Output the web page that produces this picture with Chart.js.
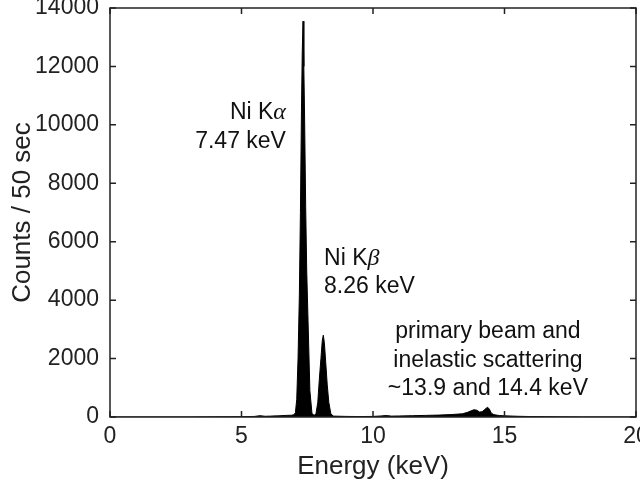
<!DOCTYPE html>
<html>
<head>
<meta charset="utf-8">
<script src="https://cdn.jsdelivr.net/npm/chart.js@4"></script>
<style>
  html, body { margin: 0; padding: 0; background: #fff; }
  #wrap { width: 640px; height: 482px; }
</style>
</head>
<body>
<div id="wrap"><canvas id="mycanvas" width="640" height="482"></canvas></div>
<script>
// spectrum
var energy = [0, 1, 2, 3, 4, 5, 5.5, 5.7, 5.9, 6.1, 6.4, 6.7, 6.9, 7.0, 7.05, 7.1, 7.15, 7.2, 7.24, 7.28, 7.31, 7.34, 7.37, 7.40, 7.44, 7.48, 7.53, 7.6, 7.68, 7.76, 7.83, 7.9, 7.96, 8.02, 8.07, 8.11, 8.15, 8.2, 8.26, 8.32, 8.40, 8.5, 9, 9.5, 10, 10.3, 10.5, 10.7, 11, 11.5, 12, 12.5, 13, 13.4, 13.6, 13.75, 13.85, 13.95, 14.05, 14.15, 14.25, 14.35, 14.42, 14.5, 14.6, 14.8, 15, 15.5, 16, 17, 18, 19, 20];
var counts = [0, 0, 0, 0, 5, 10, 20, 45, 25, 30, 40, 55, 60, 80, 150, 600, 2000, 4200, 7000, 10500, 12500, 13550, 12000, 10200, 7200, 5000, 3300, 900, 120, 60, 100, 500, 1300, 2000, 2600, 2800, 2550, 1900, 1100, 500, 100, 30, 20, 15, 20, 35, 50, 30, 35, 45, 55, 65, 85, 110, 160, 220, 250, 230, 170, 180, 260, 330, 280, 130, 80, 50, 40, 25, 15, 5, 0, 0, 0];

var xTicks = [0, 5, 10, 15, 20];
var yTicks = [0, 2000, 4000, 6000, 8000, 10000, 12000, 14000];

var labelKa = ["Ni K", "\u03b1", "7.47 keV"];
var labelKb = ["Ni K", "\u03b2", "8.26 keV"];
var labelScatter = ["primary beam and", "inelastic scattering", "~13.9 and 14.4 keV"];

var points = [];
for (var i = 0; i < energy.length; i++) points.push({x: energy[i], y: counts[i]});

var FONT = "'Liberation Sans', Arial, Helvetica, sans-serif";

var boxPlugin = {
  id: 'box',
  afterDraw: function(chart) {
    var ctx = chart.ctx, a = chart.chartArea;
    var xs = chart.scales.x, ys = chart.scales.y;
    ctx.save();
    ctx.strokeStyle = '#222';
    ctx.lineWidth = 1.5;
    ctx.strokeRect(a.left, a.top, a.right - a.left, a.bottom - a.top);
    ctx.beginPath();
    xTicks.forEach(function(v) {
      var px = xs.getPixelForValue(v);
      ctx.moveTo(px, a.bottom); ctx.lineTo(px, a.bottom - 6);
      ctx.moveTo(px, a.top); ctx.lineTo(px, a.top + 6);
    });
    yTicks.forEach(function(v) {
      var py = ys.getPixelForValue(v);
      ctx.moveTo(a.left, py); ctx.lineTo(a.left + 6, py);
      ctx.moveTo(a.right, py); ctx.lineTo(a.right - 6, py);
    });
    ctx.stroke();

    ctx.fillStyle = '#111';
    ctx.textBaseline = 'alphabetic';
    var f = '23px ' + FONT;
    var greek = 'italic 24px "Liberation Serif", "Times New Roman", serif';

    // Ni K-alpha, right aligned left of the peak
    var rx = xs.getPixelForValue(6.69), by = ys.getPixelForValue(10200);
    ctx.font = greek;
    var gw = ctx.measureText(labelKa[1]).width;
    ctx.textAlign = 'right';
    ctx.fillText(labelKa[1], rx, by);
    ctx.font = f;
    ctx.fillText(labelKa[0], rx - gw, by);
    ctx.fillText(labelKa[2], rx, by + 29);

    // Ni K-beta, left aligned right of the peak
    var lx = xs.getPixelForValue(8.14), by2 = ys.getPixelForValue(5200);
    ctx.textAlign = 'left';
    ctx.font = f;
    var nw = ctx.measureText(labelKb[0]).width;
    ctx.fillText(labelKb[0], lx, by2);
    ctx.font = greek;
    ctx.fillText(labelKb[1], lx + nw, by2);
    ctx.font = f;
    ctx.fillText(labelKb[2], lx, by2 + 28);

    // scattering note, centred
    var cx = xs.getPixelForValue(14.37), by3 = ys.getPixelForValue(2700);
    ctx.textAlign = 'center';
    labelScatter.forEach(function(t, k) { ctx.fillText(t, cx, by3 + k * 28.5); });
    ctx.restore();
  }
};

function plain(v) { return String(v); }

var canvas = document.getElementById('mycanvas');
var myChart = new Chart(canvas, {
  type: 'line',
  data: {
    datasets: [{
      data: points,
      borderColor: '#000',
      backgroundColor: '#000',
      borderWidth: 1,
      pointRadius: 0,
      tension: 0,
      fill: 'origin'
    }]
  },
  options: {
    responsive: false,
    animation: false,
    events: [],
    layout: { padding: { top: 8, right: 4, left: 0, bottom: 0 } },
    plugins: { legend: { display: false }, tooltip: { enabled: false } },
    scales: {
      x: {
        type: 'linear', min: 0, max: 20,
        grid: { display: false, drawTicks: false },
        border: { display: false },
        afterBuildTicks: function(s) { s.ticks = xTicks.map(function(v) { return {value: v}; }); },
        afterFit: function(s) { s.height = 65; s.paddingLeft = 0; s.paddingRight = 0; },
        ticks: { color: '#222', font: { family: FONT, size: 23 }, padding: 6, maxRotation: 0, callback: plain },
        title: { display: true, text: 'Energy (keV)', color: '#222', font: { family: FONT, size: 26 }, padding: { top: 2, bottom: 0 } }
      },
      y: {
        min: 0, max: 14000,
        grid: { display: false, drawTicks: false },
        border: { display: false },
        afterBuildTicks: function(s) { s.ticks = yTicks.map(function(v) { return {value: v}; }); },
        afterFit: function(s) { s.width = 110; s.paddingTop = 0; s.paddingBottom = 0; },
        ticks: { color: '#222', font: { family: FONT, size: 23 }, padding: 11, callback: plain },
        title: { display: true, text: 'Counts / 50 sec', color: '#222', font: { family: FONT, size: 26 }, padding: { top: 7, bottom: 0 } }
      }
    }
  },
  plugins: [boxPlugin]
});
</script>
</body>
</html>
